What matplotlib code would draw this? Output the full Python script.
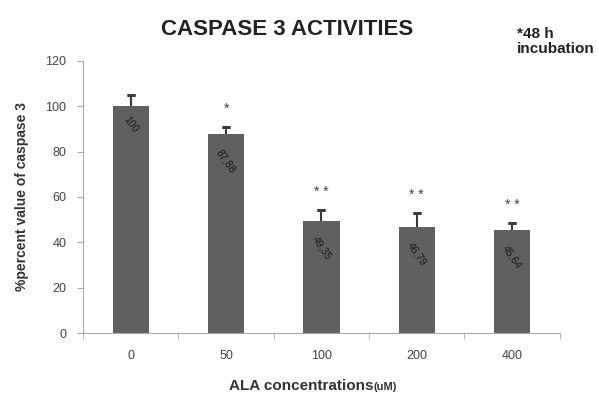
import numpy as np
import matplotlib.pyplot as plt

concentrations = ["0", "50", "100", "200", "400"]
values = [100, 87.88, 49.35, 46.79, 45.64]
value_labels = ["100", "87,88", "49,35", "46,79", "45,64"]
errors = [5, 3, 5, 6, 3]
stars = ["", "*", "* *", "* *", "* *"]

plt.rcParams['font.family'] = ['Liberation Sans', 'DejaVu Sans']

fig = plt.figure(figsize=(5.98, 3.99), dpi=100)
ax = fig.add_axes([0.139, 0.1654, 0.797, 0.682])

x = np.arange(len(values))
ax.bar(x, values, width=0.38, color="#606060", zorder=2)
# upper error bars only
ax.errorbar(x, values, yerr=[[0] * len(errors), errors], fmt="none",
            ecolor="#3a3a3a", elinewidth=1.5, capsize=0, zorder=1)
ax.errorbar(x, np.add(values, errors), yerr=0, fmt="none",
            ecolor="#3a3a3a", elinewidth=0, capsize=3, capthick=2, zorder=3)

for xi, v, lab in zip(x, values, value_labels):
    off = 8 if len(lab) < 4 else 12
    ax.text(xi, v - off, lab, rotation=-55, ha="center", va="center",
            fontsize=7.5, color="#1a1a1a", zorder=4)

for xi, v, e, s in zip(x, values, errors, stars):
    if s:
        ax.text(xi, v + e + 8, s, ha="center", va="center",
                fontsize=10, color="#444444")

ax.set_xlim(-0.5, len(values) - 0.5)
ax.set_ylim(0, 120)
ax.set_yticks(range(0, 121, 20))
ax.set_xticks(x)
ax.set_xticklabels(concentrations)
ax.set_xticks(np.arange(-0.5, len(values)), minor=True)
ax.tick_params(axis="x", which="major", length=0, pad=12, labelsize=9,
               labelcolor="#444444")
ax.tick_params(axis="x", which="minor", length=4, color="#aaaaaa")
ax.tick_params(axis="y", length=4, color="#aaaaaa", labelsize=9,
               labelcolor="#444444", pad=8)

for side in ["top", "right"]:
    ax.spines[side].set_visible(False)
for side in ["left", "bottom"]:
    ax.spines[side].set_color("#aaaaaa")

ax.set_ylabel("%percent value of caspase 3", fontsize=10, fontweight="bold",
              color="#333333", labelpad=12)
fig.text(0.624, 0.022, "ALA concentrations", ha="right", fontsize=11,
         fontweight="bold", color="#333333")
fig.text(0.624, 0.022, "(uM)", ha="left", fontsize=8, fontweight="bold",
         color="#333333")
fig.text(0.48, 0.912, "CASPASE 3 ACTIVITIES", ha="center", fontsize=16,
         fontweight="bold", color="#222222")
fig.text(0.864, 0.866, "*48 h\nincubation", ha="left", fontsize=11,
         fontweight="bold", color="#222222", linespacing=1.15)

fig.savefig("out.png", dpi=100)
